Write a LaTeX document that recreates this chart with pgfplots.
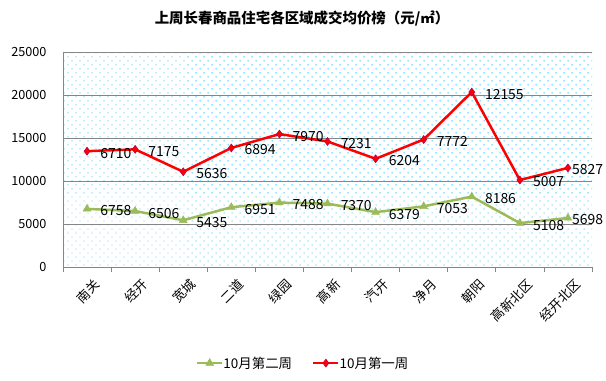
\documentclass[border=0pt]{standalone}
\usepackage{fontspec}
\setmainfont{Noto Sans CJK SC}
\usepackage{pgfplots}
\pgfplotsset{compat=1.18}
\usepackage{pgfplotstable}
\usetikzlibrary{patterns.meta}
\definecolor{ogreen}{RGB}{155,187,89}
\definecolor{dotc}{RGB}{0,176,240}
\definecolor{gridc}{RGB}{134,134,134}
\pgfplotstableread{
x y lab
0 6758 6758
1 6506 6506
2 5435 5435
3 6951 6951
4 7488 7488
5 7370 7370
6 6379 6379
7 7053 7053
8 8186 8186
9 5108 5108
10 5698 5698
}\weektwo
\pgfplotstableread{
x y lab
0 6710 6710
1 7175 7175
2 5636 5636
3 6894 6894
4 7970 7970
5 7231 7231
6 6204 6204
7 7772 7772
8 12155 12155
9 5007 5007
10 5827 5827
}\weekone
\begin{document}
\begin{tikzpicture}
\useasboundingbox (0,0) rectangle (606bp,381bp);
\node[font=\bfseries\fontsize{14.5}{16}\selectfont] at (302bp,363bp) {上周长春商品住宅各区域成交均价榜（元/㎡）};
\begin{axis}[
  at={(63bp,114bp)}, anchor=south west,
  scale only axis, width=529bp, height=215bp,
  xmin=-0.5, xmax=10.5, ymin=0, ymax=25000,
  stack plots=y,
  axis background/.style={pattern={Dots[distance=5.657bp,angle=45,radius=0.7bp]}, pattern color=dotc},
  axis line style={gridc},
  axis x line*=bottom, axis y line*=left,
  x axis line style={-}, y axis line style={-},
  ytick={0,5000,...,25000},
  ymajorgrids, grid style={gridc, line width=0.8pt},
  y tick label style={font=\fontsize{12.7}{14}\selectfont, xshift=-13bp},
  /pgf/number format/assume math mode=true,
  scaled y ticks=false,
  yticklabel={\pgfmathprintnumber[fixed,1000 sep={}]{\tick}},
  ytick style={draw=none},
  xtick={0,...,10},
  xticklabels={南关,经开,宽城,二道,绿园,高新,汽开,净月,朝阳,高新北区,经开北区},
  x tick label style={rotate=45, anchor=east, font=\fontsize{13}{14}\selectfont, xshift=0bp, yshift=-18bp},
  extra x ticks={-0.5,0.5,...,10.5},
  extra x tick labels={},
  extra x tick style={grid=none, tick style={gridc, line width=0.8pt}, major tick length=5bp, tick align=outside},
  major tick length=0pt,
  every node near coord/.append style={font=\fontsize{14}{15}\selectfont, anchor=west, inner sep=1bp, xshift=12bp, yshift=-2bp, black},
  coordinate style/.condition={x==10}{xshift=-9bp},
  legend style={at={(0.454,-0.447)}, anchor=center, draw=none, fill=none, legend columns=2, font=\fontsize{13.5}{15}\selectfont, /tikz/every even column/.append style={column sep=18bp}, /tikz/every odd column/.append style={column sep=-2bp}},
  legend image code/.code={\draw[mark repeat=2,mark phase=2,#1] plot coordinates {(0bp,0bp) (12.5bp,0bp) (25bp,0bp)};},
  legend cell align=left,
]
\addplot[color=ogreen, line width=2.5pt, mark=triangle*, mark size=4.5bp, mark options={fill=ogreen, draw=ogreen, line width=0.5pt},
  nodes near coords, point meta=explicit symbolic] table[x=x, y=y, meta=lab] {\weektwo};
\addlegendentry{10月第二周}
\addplot[color=red, line width=2.5pt, mark=diamond*, mark size=4bp, mark options={fill=red, draw=red!70!blue, line width=0.5pt},
  nodes near coords, point meta=explicit symbolic] table[x=x, y=y, meta=lab] {\weekone};
\addlegendentry{10月第一周}
\end{axis}
\end{tikzpicture}
\end{document}
